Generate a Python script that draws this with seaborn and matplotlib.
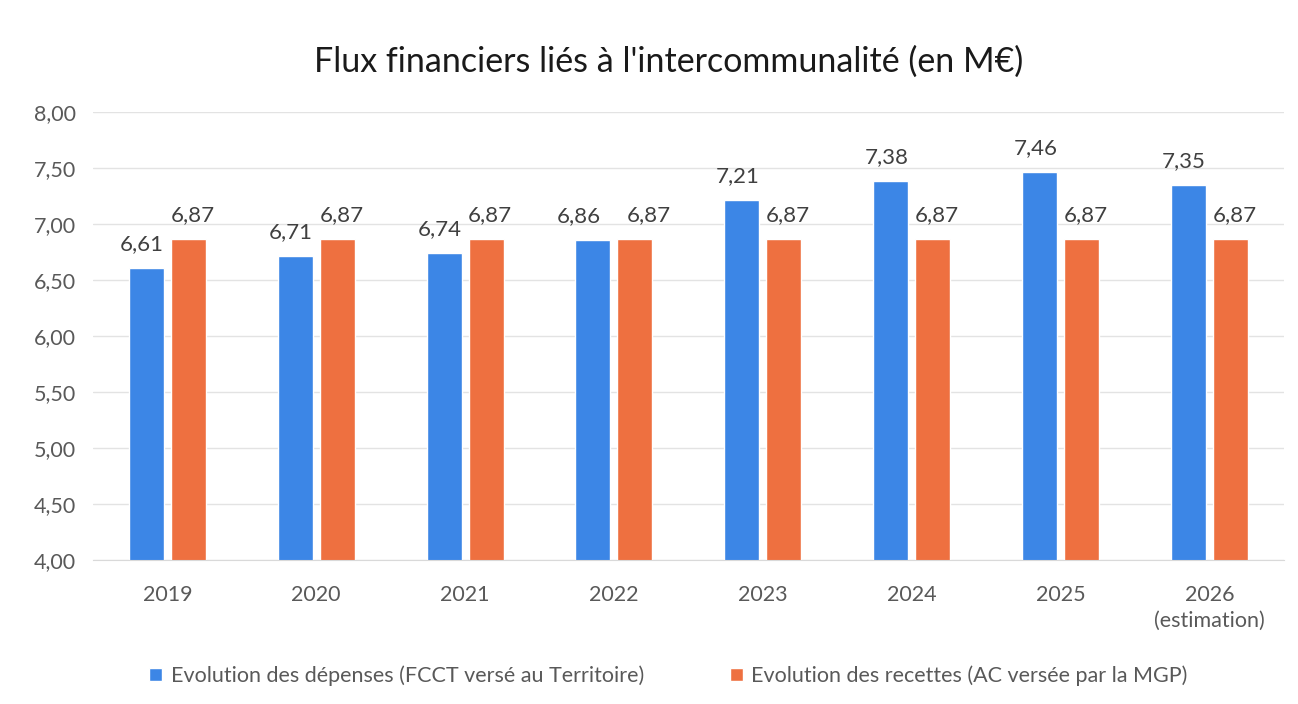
import matplotlib
matplotlib.use("Agg")
import pandas as pd
import matplotlib.pyplot as plt
import seaborn as sns

# données (en M€)
annees = ['2019', '2020', '2021', '2022', '2023', '2024', '2025', '2026\n(estimation)']
depenses = [6.61, 6.71, 6.74, 6.86, 7.21, 7.38, 7.46, 7.35]
recettes = [6.87, 6.87, 6.87, 6.87, 6.87, 6.87, 6.87, 6.87]
serie_dep = 'Evolution des dépenses (FCCT versé au Territoire)'
serie_rec = 'Evolution des recettes (AC versée par la MGP)'

df = pd.DataFrame({
    'annee': annees * 2,
    'valeur': depenses + recettes,
    'serie': [serie_dep] * len(annees) + [serie_rec] * len(annees),
})

sns.set_style('white')
plt.rcParams['font.family'] = ['Lato', 'DejaVu Sans']

fig = plt.figure(figsize=(12.98, 7.04), dpi=100)
ax = fig.add_axes([0.0716, 0.2045, 0.9174, 0.6365])

sns.barplot(data=df, x='annee', y='valeur', hue='serie', ax=ax,
            palette=['#3C86E6', '#EE7040'], width=0.564, gap=0.167,
            saturation=1, legend=True)

ax.set_ylim(4, 8)
ax.set_xlim(-0.5, len(annees) - 0.5)
ax.set_yticks([4 + 0.5 * i for i in range(9)])
ax.set_yticklabels([f"{4 + 0.5 * i:.2f}".replace('.', ',') for i in range(9)])
ax.yaxis.grid(True, color='#E3E3E3', linewidth=1)
ax.set_axisbelow(True)
for s in ['top', 'right', 'left']:
    ax.spines[s].set_visible(False)
ax.spines['bottom'].set_color('#D9D9D9')
ax.tick_params(axis='both', length=0, labelsize=15.5, colors='#595959')
ax.tick_params(axis='x', pad=18)
ax.tick_params(axis='y', pad=12)
for t in ax.get_xticklabels():
    t.set_linespacing(1.35)
ax.set_xlabel('')
ax.set_ylabel('')

# étiquettes de valeurs (écartées quand les deux valeurs sont proches)
for k, cont in enumerate(ax.containers):
    sens = -1 if k == 0 else 1
    for i, rect in enumerate(cont.patches):
        v = cont.datavalues[i]
        dx = 10 if abs(depenses[i] - recettes[i]) < 0.05 else 3
        ax.annotate(f"{v:.2f}".replace('.', ','),
                    (rect.get_x() + rect.get_width() / 2, rect.get_height()),
                    xytext=(sens * dx, 10), textcoords='offset points',
                    ha='center', va='bottom', fontsize=16, color='#404040')

fig.suptitle("Flux financiers liés à l'intercommunalité (en M€)", x=0.515, y=0.935,
             fontsize=24.5, color='#1A1A1A')

handles, labels = ax.get_legend_handles_labels()
ax.get_legend().remove()
fig.legend(handles, labels, loc='center', bbox_to_anchor=(0.515, 0.04), ncol=2,
           frameon=False, fontsize=15.5, handlelength=0.6, handleheight=0.6,
           handletextpad=0.4, columnspacing=4, labelcolor='#595959')

fig.savefig('out.png', dpi=100)
